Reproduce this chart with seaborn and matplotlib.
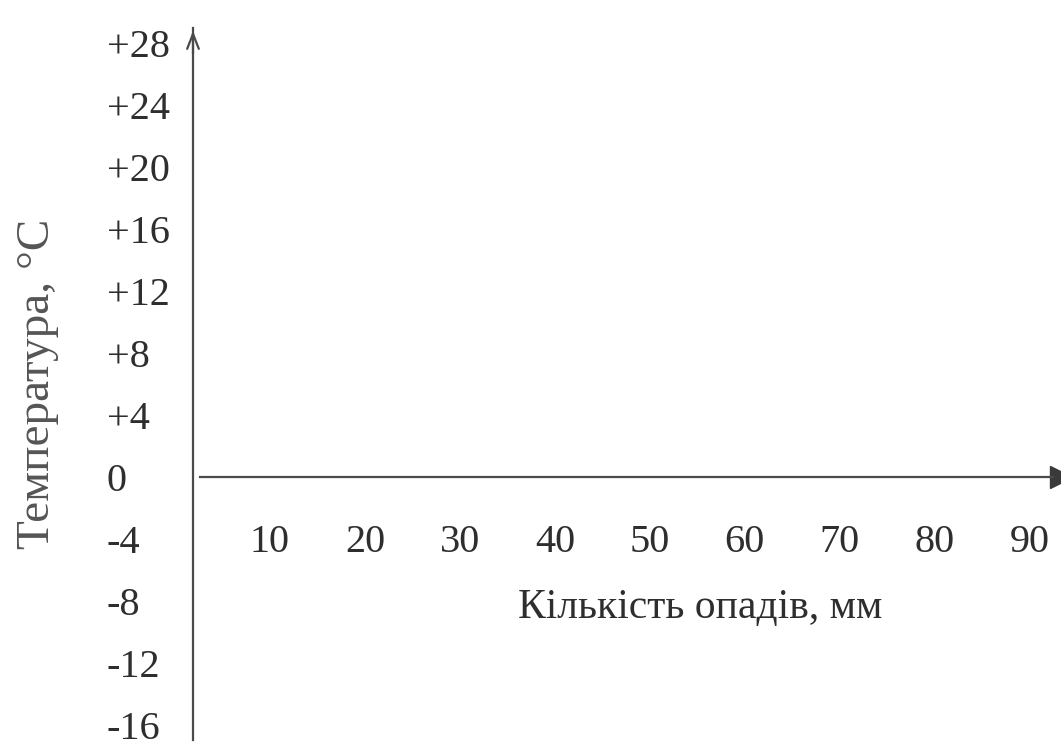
import matplotlib
matplotlib.use("Agg")
import matplotlib.pyplot as plt
import seaborn as sns

# ---- data (axis template, no series) ----
x_ticks = [10, 20, 30, 40, 50, 60, 70, 80, 90]
x_tick_labels = ["10", "20", "30", "40", "50", "60", "70", "80", "90"]
y_ticks = [28, 24, 20, 16, 12, 8, 4, 0, -4, -8, -12, -16]
y_tick_labels = ["+28", "+24", "+20", "+16", "+12", "+8", "+4", "0", "-4", "-8", "-12", "-16"]
x_label = "Кількість опадів, мм"
y_label = "Температура, °С"

sns.set_theme(style="white")
plt.rcParams["font.family"] = ["Liberation Serif", "DejaVu Serif"]

TEXT = "#2e2e2e"
LINE = "#4a4a4a"

fig = plt.figure(figsize=(10.61, 7.56), dpi=100)
ax = fig.add_axes([193 / 1061, 16 / 756, 1 - 193 / 1061, (740 - 28) / 756])

ax.set_xlim(1.9, 93.3)
ax.set_ylim(-17.0, 29.0)

sns.despine(ax=ax, top=True, right=True)
ax.spines["bottom"].set_position(("data", 0))
ax.spines["bottom"].set_bounds(2.6, 92.5)
for s in ("left", "bottom"):
    ax.spines[s].set_color(LINE)
    ax.spines[s].set_linewidth(1.6)

ax.set_xticks(x_ticks)
ax.set_xticklabels(x_tick_labels)
ax.set_yticks(y_ticks)
ax.set_yticklabels(y_tick_labels)
ax.tick_params(axis="x", length=0, pad=34, labelsize=29, colors=TEXT)
ax.tick_params(axis="y", length=0, labelsize=29, colors=TEXT)
for lab in ax.get_yticklabels():
    lab.set_horizontalalignment("left")
ax.tick_params(axis="y", pad=62)

ax.set_xlabel(x_label, fontsize=30, color=TEXT)
ax.xaxis.set_label_coords((700 - 193) / 868, (756 - 16 - 608) / 712 - 0.0, transform=None)
ax.xaxis.label.set_verticalalignment("center")
ax.xaxis.set_label_coords(700 / 1061, (756 - 608) / 756, transform=fig.transFigure)

ax.set_ylabel(y_label, fontsize=34, color="#555555")
ax.yaxis.label.set_verticalalignment("center")
ax.yaxis.set_label_coords(38 / 1061, (756 - 384) / 756, transform=fig.transFigure)

# arrow heads
ax.plot(1, 0, ">", color="#3a3a3a", markersize=16, transform=ax.get_yaxis_transform(), clip_on=False)
ax.annotate("", xy=(0, 1.0), xytext=(0, 0.96), xycoords="axes fraction",
            arrowprops=dict(arrowstyle="->,head_length=0.9,head_width=0.35", color=LINE, lw=1.6))

fig.savefig("out.png", dpi=100)
